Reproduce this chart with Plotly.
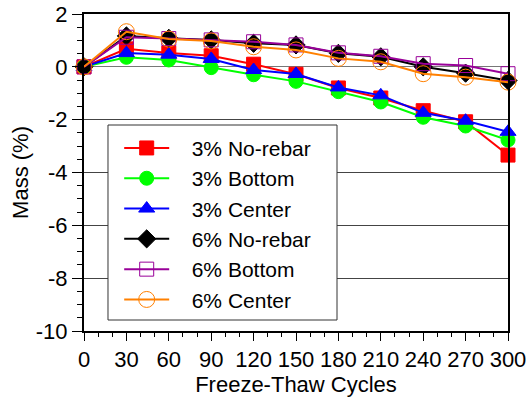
import plotly.graph_objects as go

cycles = [0, 30, 60, 90, 120, 150, 180, 210, 240, 270, 300]
s3_norebar = [0, 0.68, 0.52, 0.42, 0.10, -0.28, -0.80, -1.18, -1.66, -2.08, -3.34]
s3_bottom = [0, 0.36, 0.26, -0.03, -0.30, -0.55, -0.94, -1.33, -1.91, -2.24, -2.77]
s3_center = [0, 0.52, 0.46, 0.30, -0.12, -0.27, -0.78, -1.08, -1.74, -2.04, -2.46]
s6_norebar = [0, 1.17, 1.08, 1.02, 0.89, 0.83, 0.51, 0.38, 0.0, -0.24, -0.52]
s6_bottom = [0, 1.12, 1.07, 1.02, 0.95, 0.83, 0.53, 0.40, 0.12, 0.05, -0.26]
s6_center = [0, 1.33, 1.05, 0.98, 0.76, 0.64, 0.32, 0.19, -0.26, -0.39, -0.58]

x_ticks = [0, 30, 60, 90, 120, 150, 180, 210, 240, 270, 300]
y_ticks = [-10, -8, -6, -4, -2, 0, 2]
y_ticktext = ["-10", "-8", "-6", "-4", "-2", "0", "2"]

series = [
    ("3% No-rebar", s3_norebar, "#ff0000", "square", 14),
    ("3% Bottom", s3_bottom, "#00ff00", "circle", 14),
    ("3% Center", s3_center, "#0000ff", "triangle-up", 14),
    ("6% No-rebar", s6_norebar, "#000000", "diamond", 14),
    ("6% Bottom", s6_bottom, "#990099", "square-open", 14),
    ("6% Center", s6_center, "#ff8000", "circle-open", 16),
]

pad = "\u00a0\u00a0\u00a0"
fig = go.Figure()
for name, vals, color, sym, sz in series:
    fig.add_trace(go.Scatter(
        x=cycles, y=vals, name=pad + name, mode="lines+markers",
        line=dict(color=color, width=2),
        marker=dict(symbol=sym, size=sz, color=color, line=dict(color=color, width=1)),
        cliponaxis=False,
    ))

# legend frame
fig.add_shape(type="rect", xref="paper", yref="paper",
              x0=0.0566, x1=0.5967, y0=0.0347, y1=0.6498,
              line=dict(color="#333333", width=1), fillcolor="white", layer="above")

font = "Liberation Sans, Arial, sans-serif"
fig.update_layout(
    width=526, height=403,
    margin=dict(l=84, r=18, t=14, b=72, autoexpand=False),
    paper_bgcolor="white", plot_bgcolor="white",
    font=dict(family=font, size=22, color="black"),
    showlegend=True,
    legend=dict(
        x=0.083, y=0.641, xanchor="left", yanchor="top",
        bgcolor="rgba(0,0,0,0)", borderwidth=0,
        font=dict(size=21), itemwidth=45, tracegroupgap=0,
    ),
    xaxis=dict(
        range=[0, 300], tickvals=x_ticks, automargin=False, ticklabeloverflow="allow",
        ticks="outside", ticklen=8, tickwidth=1, tickcolor="black",
        minor=dict(dtick=10, ticks="outside", ticklen=4, tickcolor="black", showgrid=False),
        showline=True, linecolor="black", linewidth=2, mirror=True,
        showgrid=False, zeroline=False,
        title=dict(text="Freeze-Thaw Cycles", font=dict(size=22), standoff=5),
    ),
    yaxis=dict(
        range=[-10, 2], tickvals=y_ticks, ticktext=y_ticktext, automargin=False,
        ticklabeloverflow="allow",
        ticks="outside", ticklen=10, tickwidth=1, tickcolor="black",
        minor=dict(dtick=0.5, ticks="outside", ticklen=5, tickcolor="black", showgrid=False),
        showline=True, linecolor="black", linewidth=2, mirror=True,
        showgrid=True, gridcolor="#444444", gridwidth=1,
        zeroline=True, zerolinecolor="#777777", zerolinewidth=1,
        title=dict(text="Mass (%)", font=dict(size=22), standoff=1),
    ),
)

fig.write_html("out.html", config={"displayModeBar": False},
               post_script="document.body.style.margin='0';document.body.style.overflow='hidden';")
